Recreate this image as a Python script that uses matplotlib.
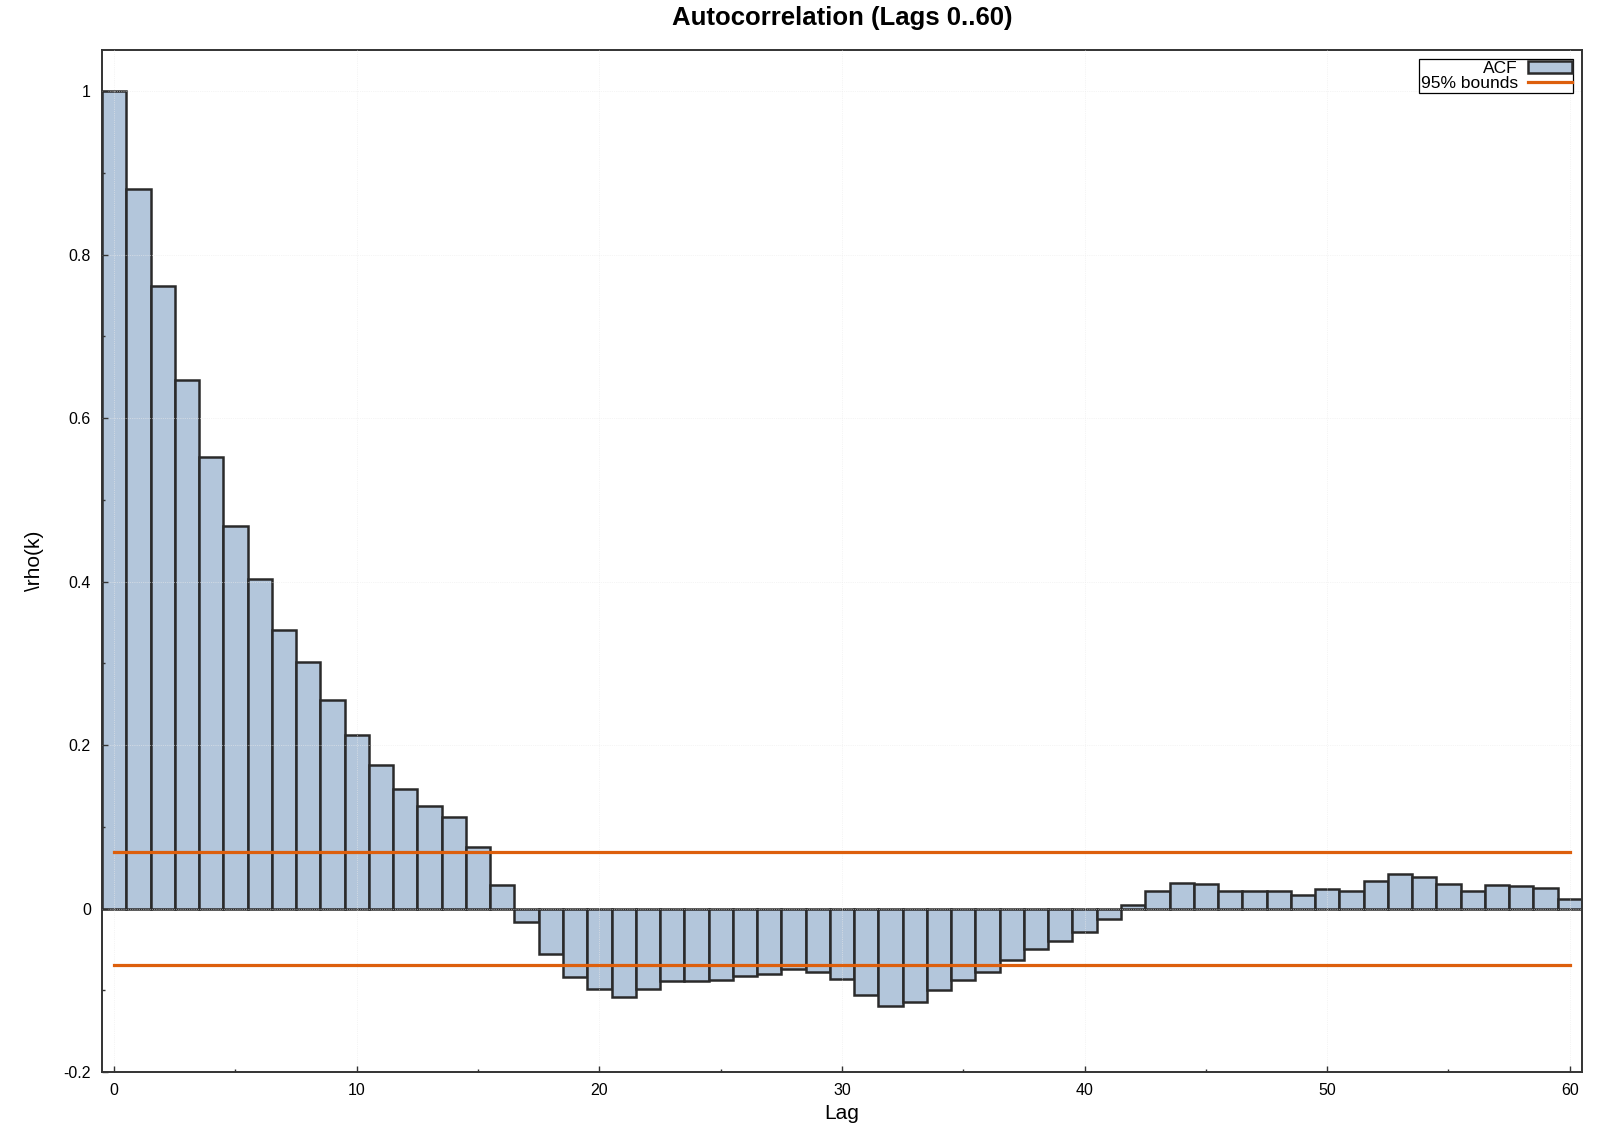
import numpy as np
import matplotlib
matplotlib.use("Agg")
import matplotlib.pyplot as plt
from matplotlib.ticker import MultipleLocator, FuncFormatter

plt.rcParams['font.family'] = ['Liberation Sans', 'DejaVu Sans']

#%% DATA
lags = np.arange(0, 61)
acf = [1.000, 0.880, 0.762, 0.647, 0.552, 0.468, 0.403, 0.341, 0.301, 0.255,
       0.212, 0.175, 0.146, 0.126, 0.112, 0.075, 0.029, -0.016, -0.055, -0.084,
       -0.098, -0.108, -0.099, -0.089, -0.089, -0.087, -0.083, -0.080, -0.074, -0.077,
       -0.086, -0.106, -0.119, -0.114, -0.100, -0.087, -0.078, -0.063, -0.050, -0.040,
       -0.029, -0.013, 0.004, 0.022, 0.031, 0.030, 0.022, 0.021, 0.021, 0.017,
       0.024, 0.022, 0.034, 0.042, 0.038, 0.030, 0.022, 0.029, 0.027, 0.025,
       0.012]
bound = 0.0693  # 1.96/sqrt(N), N=800
bound_lags = [0, 60]

#%% PLOT
fig = plt.figure(figsize=(16.2, 11.4), dpi=100)
ax = fig.add_axes([0.063, 0.0596, 0.9135, 0.8964])

bars = ax.bar(lags, acf, width=1.0, color='#b3c6db', edgecolor='#2a2a2a',
              linewidth=1.8, label='ACF', zorder=2)
line, = ax.plot(bound_lags, [bound, bound], color='#dd5f0c', linewidth=2.3,
                label='95% bounds', zorder=3)
ax.plot(bound_lags, [-bound, -bound], color='#dd5f0c', linewidth=2.3, zorder=3)

ax.set_xlim(-0.5, 60.5)
ax.set_ylim(-0.2, 1.05)

ax.xaxis.set_major_locator(MultipleLocator(10))
ax.xaxis.set_minor_locator(MultipleLocator(5))
ax.yaxis.set_major_locator(MultipleLocator(0.2))
ax.yaxis.set_minor_locator(MultipleLocator(0.1))
ax.yaxis.set_major_formatter(FuncFormatter(lambda v, p: f"{round(v, 2):g}"))
ax.xaxis.set_major_formatter(FuncFormatter(lambda v, p: f"{v:g}"))

ax.tick_params(which='both', direction='in', color='#333333', width=1.0,
               labelsize=11.5, top=False, right=False)
ax.tick_params(which='major', length=4, pad=8)
ax.tick_params(which='minor', length=2.5)

ax.grid(True, which='major', color='#ebebeb', linestyle=':', linewidth=0.5,
        zorder=4)
ax.set_axisbelow(False)

for s in ax.spines.values():
    s.set_color('#333333')
    s.set_linewidth(1.4)

ax.set_xlabel('Lag', fontsize=15, labelpad=4)
ax.set_ylabel('\\rho(k)', fontsize=15, labelpad=14)
ax.set_title('Autocorrelation (Lags 0..60)', fontsize=18.5, fontweight='bold',
             pad=18)

leg = ax.legend([bars, line], ['ACF', '95% bounds'], loc='upper right',
                fontsize=12.5, markerfirst=False,
                fancybox=False, framealpha=1, edgecolor='black',
                borderaxespad=0.5, borderpad=0.1, labelspacing=0.0,
                handlelength=2.5, handletextpad=0.6)
leg.get_frame().set_linewidth(0.9)

fig.savefig('out.png', dpi=100)
